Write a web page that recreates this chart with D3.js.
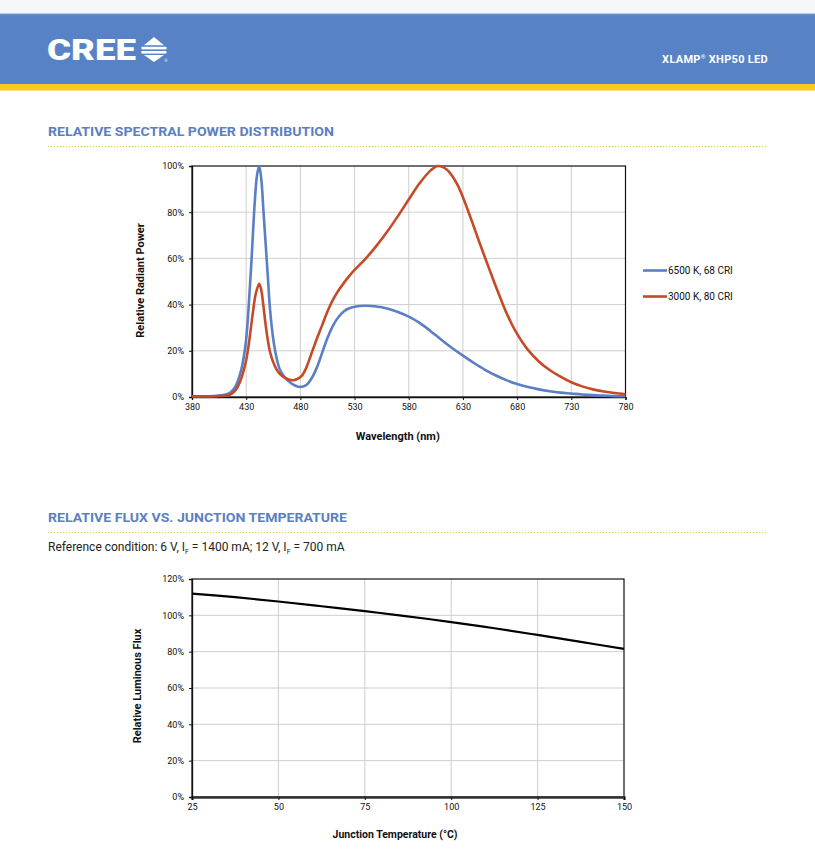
<!DOCTYPE html>
<html><head><meta charset="utf-8">
<script src="https://cdn.jsdelivr.net/npm/d3@7"></script>
<style>
html,body{margin:0;padding:0;background:#fff;}
svg{display:block;}
text{font-family:Roboto,"Liberation Sans",Arial,sans-serif;}
</style></head>
<body>
<svg id="page" width="815" height="868"></svg>
<script>
// ---------- DATA ----------
const wavelengthTicks = [380, 430, 480, 530, 580, 630, 680, 730, 780];
const powerTicks = [0, 20, 40, 60, 80, 100];
const seriesNames = ["6500 K, 68 CRI", "3000 K, 80 CRI"];

const wl6500 = [380,390,400,405,410,415,420,425,428,430,432,435,438,440,442,444,446,448,450,452,455,458,461,465,470,475,480,485,490,495,500,505,510,515,520,525,530,540,550,560,570,580,590,600,610,620,630,640,650,660,670,680,690,700,710,720,730,740,750,760,770,780];
const pw6500 = [0.3,0.3,0.4,0.6,1.0,1.8,4.5,11,18,25,37,60,85,96,100,94,80,66,52,38,25,17,12,8.8,6.5,5.0,4.3,5.0,7.8,12.5,19,25.5,30.8,34.5,37,38.4,39.1,39.5,39.2,38.3,36.8,34.8,32.1,28.6,24.8,21.2,17.9,14.8,11.9,9.4,7.3,5.6,4.3,3.3,2.5,1.9,1.5,1.1,0.8,0.6,0.4,0.3];

const wl3000 = [380,390,400,405,410,415,420,425,430,433,436,439,442,444,446,448,450,452,455,458,461,465,470,474,478,481,485,490,495,500,505,510,515,520,525,530,540,550,560,570,580,590,600,607,615,620,625,630,635,640,645,650,655,660,665,670,675,680,685,690,700,710,720,730,740,750,760,770,780];
const pw3000 = [0.3,0.3,0.3,0.4,0.6,1.0,2.8,7.5,16,25,36,45,49,46,39,31,24.5,19.5,15,12,10,8.5,7.5,7.3,8.0,9.0,12.2,18.5,25,31,37,42,46,49.3,52.3,55,59.8,65.3,71.5,78.3,85.5,92.5,98,100,98.5,95.8,91.8,86.5,80.3,73.8,67.2,60.8,54.5,48.3,42.3,36.6,31.6,27.3,23.6,20.4,15.4,11.7,8.8,6.4,4.6,3.3,2.4,1.7,1.2];

const tempTicks = [25, 50, 75, 100, 125, 150];
const fluxTicks = [0, 20, 40, 60, 80, 100, 120];
const fluxTemps = [25, 37.5, 50, 62.5, 75, 85, 100, 112.5, 125, 137.5, 150];
const fluxValues = [112, 110, 107.6, 105, 102.3, 100, 96.3, 92.9, 89.2, 85.4, 81.5];

// ---------- STYLE ----------
const BLUE_HDR = "#5783c6", YELLOW = "#f7cb1b", TITLE = "#5b80bf";
const C6500 = "#5b7fc3", C3000 = "#c64a28";
const GRID = "#cfcfcf";

const svg = d3.select("#page");

// ---------- HEADER ----------
svg.append("rect").attr("x",0).attr("y",0).attr("width",815).attr("height",14).attr("fill","#f6f7f9");
svg.append("rect").attr("x",0).attr("y",14).attr("width",815).attr("height",70).attr("fill",BLUE_HDR);
svg.append("rect").attr("x",0).attr("y",13).attr("width",815).attr("height",1.2).attr("fill","#b8cbe8");
svg.append("rect").attr("x",0).attr("y",84).attr("width",815).attr("height",6.5).attr("fill",YELLOW);

svg.append("text").attr("x",47).attr("y",60).attr("fill","#fff")
  .attr("font-size",29).attr("font-weight",900).attr("textLength",89).attr("lengthAdjust","spacingAndGlyphs")
  .style("font-family","Roboto,'Liberation Sans',sans-serif").text("CREE");
// logo symbol
const lg = svg.append("g").attr("fill","#fff");
lg.append("path").attr("d","M154,37 L164,45.3 L144,45.3 Z");
lg.append("rect").attr("x",141.5).attr("y",46.8).attr("width",25).attr("height",2.6);
lg.append("rect").attr("x",141.5).attr("y",51).attr("width",25).attr("height",2.6);
lg.append("path").attr("d","M144,55 L164,55 L154,62 Z");
svg.append("text").attr("x",164.5).attr("y",62).attr("fill","#fff").attr("font-size",3.5).text("®");

const hdr = svg.append("text").attr("x",768).attr("y",63).attr("text-anchor","end").attr("fill","#fff")
  .attr("font-size",11).attr("font-weight",700).attr("letter-spacing",0.3);
hdr.append("tspan").text("XLAMP");
hdr.append("tspan").attr("font-size",6).attr("dy",-4).text("®");
hdr.append("tspan").attr("dy",4).text(" XHP50 LED");

// ---------- SECTION TITLES ----------
function sectionTitle(txt, y, len){
  svg.append("text").attr("x",48).attr("y",y).attr("fill",TITLE).attr("font-size",13).attr("font-weight",700)
    .attr("textLength",len).attr("lengthAdjust","spacingAndGlyphs").text(txt);
  svg.append("line").attr("x1",48).attr("x2",768).attr("y1",y+11).attr("y2",y+11)
    .attr("stroke","#e6c64c").attr("stroke-width",1).attr("stroke-dasharray","1.2,1.8");
}
sectionTitle("RELATIVE SPECTRAL POWER DISTRIBUTION", 135.5, 286);
sectionTitle("RELATIVE FLUX VS. JUNCTION TEMPERATURE", 521.5, 299);

const sub = svg.append("text").attr("x",48).attr("y",551).attr("fill","#222").attr("font-size",12);
sub.append("tspan").text("Reference condition: 6 V, I");
sub.append("tspan").attr("font-size",7).attr("dy",3).text("F");
sub.append("tspan").attr("dy",-3).text(" = 1400 mA; 12 V, I");
sub.append("tspan").attr("font-size",7).attr("dy",3).text("F");
sub.append("tspan").attr("dy",-3).text(" = 700 mA");

// ---------- CHART HELPER ----------
function chart(o){
  const g = svg.append("g");
  const x = d3.scaleLinear().domain(o.xdom).range([o.x0, o.x1]);
  const y = d3.scaleLinear().domain(o.ydom).range([o.y1, o.y0]);
  g.append("g").selectAll("line").data(o.xticks.slice(1,-1)).join("line")
    .attr("x1",d=>x(d)).attr("x2",d=>x(d)).attr("y1",o.y0).attr("y2",o.y1).attr("stroke",GRID).attr("stroke-width",1);
  g.append("g").selectAll("line").data(o.yticks.slice(1,-1)).join("line")
    .attr("y1",d=>y(d)).attr("y2",d=>y(d)).attr("x1",o.x0).attr("x2",o.x1).attr("stroke",GRID).attr("stroke-width",1);
  g.append("rect").attr("x",o.x0).attr("y",o.y0).attr("width",o.x1-o.x0).attr("height",o.y1-o.y0)
    .attr("fill","none").attr("stroke","#111").attr("stroke-width",1.2);
  const ax = g.append("g").attr("transform",`translate(0,${o.y1})`)
    .call(d3.axisBottom(x).tickValues(o.xticks).tickSize(3).tickPadding(4).tickFormat(d3.format("d")));
  const ay = g.append("g").attr("transform",`translate(${o.x0},0)`)
    .call(d3.axisLeft(y).tickValues(o.yticks).tickSize(3).tickPadding(5).tickFormat(d=>d+"%"));
  [ax,ay].forEach(a=>{
    a.select(".domain").attr("stroke","#111").attr("stroke-width",o.bottomW && a===ax ? o.bottomW : 1.3);
    a.selectAll(".tick line").attr("stroke","#111");
    a.selectAll(".tick text").attr("fill","#111").attr("font-size",9).style("font-family","Roboto,'Liberation Sans',sans-serif");
  });
  if (o.bottomColor) ax.select(".domain").attr("stroke",o.bottomColor);
  g.append("text").attr("x",(o.x0+o.x1)/2+o.xlabOff).attr("y",o.xlabY).attr("text-anchor","middle")
    .attr("font-size",o.xlabSize).attr("font-weight",700).attr("fill","#111").text(o.xlab);
  g.append("text").attr("transform",`translate(${o.ylabX},${(o.y0+o.y1)/2+o.ylabOff}) rotate(-90)`).attr("text-anchor","middle")
    .attr("font-size",11).attr("font-weight",700).attr("fill","#111").text(o.ylab);
  return {g,x,y};
}

// ---------- CHART 1 ----------
const c1 = chart({xdom:[380,780], ydom:[0,100], x0:192, x1:625.5, y0:166, y1:397,
  xticks:wavelengthTicks, yticks:powerTicks, xlab:"Wavelength (nm)", xlabY:440, xlabOff:-11, xlabSize:11,
  ylab:"Relative Radiant Power", ylabX:144, ylabOff:-1});
const line1 = d3.line().x(d=>c1.x(d[0])).y(d=>c1.y(d[1])).curve(d3.curveCatmullRom.alpha(0.5));
c1.g.append("path").datum(d3.zip(wl6500,pw6500)).attr("d",line1).attr("fill","none")
  .attr("stroke",C6500).attr("stroke-width",2.6).attr("stroke-linejoin","round");
c1.g.append("path").datum(d3.zip(wl3000,pw3000)).attr("d",line1).attr("fill","none")
  .attr("stroke",C3000).attr("stroke-width",2.6).attr("stroke-linejoin","round");
const legColors = [C6500, C3000];
const leg = svg.append("g");
seriesNames.forEach((n,i)=>{
  const ly = 270.5 + i*26;
  leg.append("line").attr("x1",643).attr("x2",667).attr("y1",ly).attr("y2",ly).attr("stroke",legColors[i]).attr("stroke-width",2.6);
  leg.append("text").attr("x",668).attr("y",ly+3.5).attr("font-size",10).attr("fill","#111").text(n);
});

// ---------- CHART 2 ----------
const c2 = chart({xdom:[25,150], ydom:[0,120], x0:192, x1:624, y0:579, y1:797,
  xticks:tempTicks, yticks:fluxTicks, xlab:"Junction Temperature (°C)", xlabY:838, xlabOff:-13, xlabSize:10.5,
  ylab:"Relative Luminous Flux", ylabX:141, ylabOff:-2, bottomW:2.4, bottomColor:"#333"});
const line2 = d3.line().x(d=>c2.x(d[0])).y(d=>c2.y(d[1])).curve(d3.curveCatmullRom.alpha(0.5));
c2.g.append("path").datum(d3.zip(fluxTemps,fluxValues)).attr("d",line2).attr("fill","none")
  .attr("stroke","#000").attr("stroke-width",2.2);
</script>
</body></html>
